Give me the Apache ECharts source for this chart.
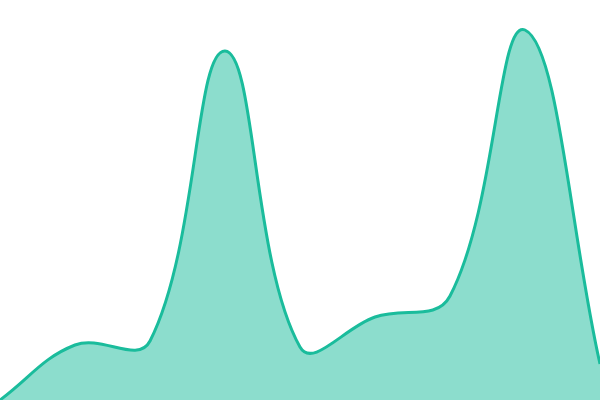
<!DOCTYPE html>
<html><head><meta charset="utf-8">
<script src="https://cdn.jsdelivr.net/npm/echarts@6/dist/echarts.min.js"></script>
<style>html,body{margin:0;padding:0;background:#fff}#c{width:600px;height:400px}</style>
</head><body><div id="c"></div>
<script>
const categories = ['1','2','3','4','5','6','7','8','9'];
const values = [0, 55, 59, 349, 53, 83, 104, 370, 36];
const tension = 0.4;

function controlPoints(pts){
  const out = [];
  for (let i = 0; i < pts.length; i++) {
    const cur = pts[i];
    const prev = i > 0 ? pts[i-1] : cur;
    const next = i < pts.length-1 ? pts[i+1] : cur;
    const d01 = Math.hypot(cur[0]-prev[0], cur[1]-prev[1]);
    const d12 = Math.hypot(next[0]-cur[0], next[1]-cur[1]);
    let s01 = d01/(d01+d12), s12 = d12/(d01+d12);
    if (isNaN(s01)) s01 = 0; if (isNaN(s12)) s12 = 0;
    const fa = tension*s01, fb = tension*s12;
    out.push({
      prev:[cur[0]-fa*(next[0]-prev[0]), cur[1]-fa*(next[1]-prev[1])],
      next:[cur[0]+fb*(next[0]-prev[0]), cur[1]+fb*(next[1]-prev[1])]
    });
  }
  return out;
}

const chart = echarts.init(document.getElementById('c'), null, {renderer:'canvas'});
chart.setOption({
  animation:false,
  grid:{left:0,right:0,top:0,bottom:0},
  xAxis:{type:'category',data:categories,boundaryGap:false,show:false},
  yAxis:{type:'value',min:0,max:400,show:false},
  series:[{
    type:'custom',
    clip:false,
    data: values.map((v,i)=>[i,v]),
    encode:{x:0,y:1},
    renderItem:function(params, api){
      if (params.dataIndex !== 0) return null;
      const pts = values.map((v,i)=>api.coord([i, v]));
      const cps = controlPoints(pts);
      let d = 'M' + pts[0][0] + ' ' + pts[0][1];
      for (let i = 1; i < pts.length; i++) {
        const a = cps[i-1].next, b = cps[i].prev, p = pts[i];
        d += ' C' + a[0] + ' ' + a[1] + ' ' + b[0] + ' ' + b[1] + ' ' + p[0] + ' ' + p[1];
      }
      const base0 = api.coord([0, 0]);
      const base1 = api.coord([values.length-1, 0]);
      const area = d + ' L' + base1[0] + ' ' + base1[1] + ' L' + base0[0] + ' ' + base0[1] + ' Z';
      return {
        type:'group',
        children:[
          {type:'path', shape:{pathData:area}, style:{fill:'rgba(26,188,156,0.5)', stroke:null}},
          {type:'path', shape:{pathData:d}, style:{fill:null, stroke:'#1abc9c', lineWidth:3}}
        ]
      };
    }
  }]
});
</script></body></html>
